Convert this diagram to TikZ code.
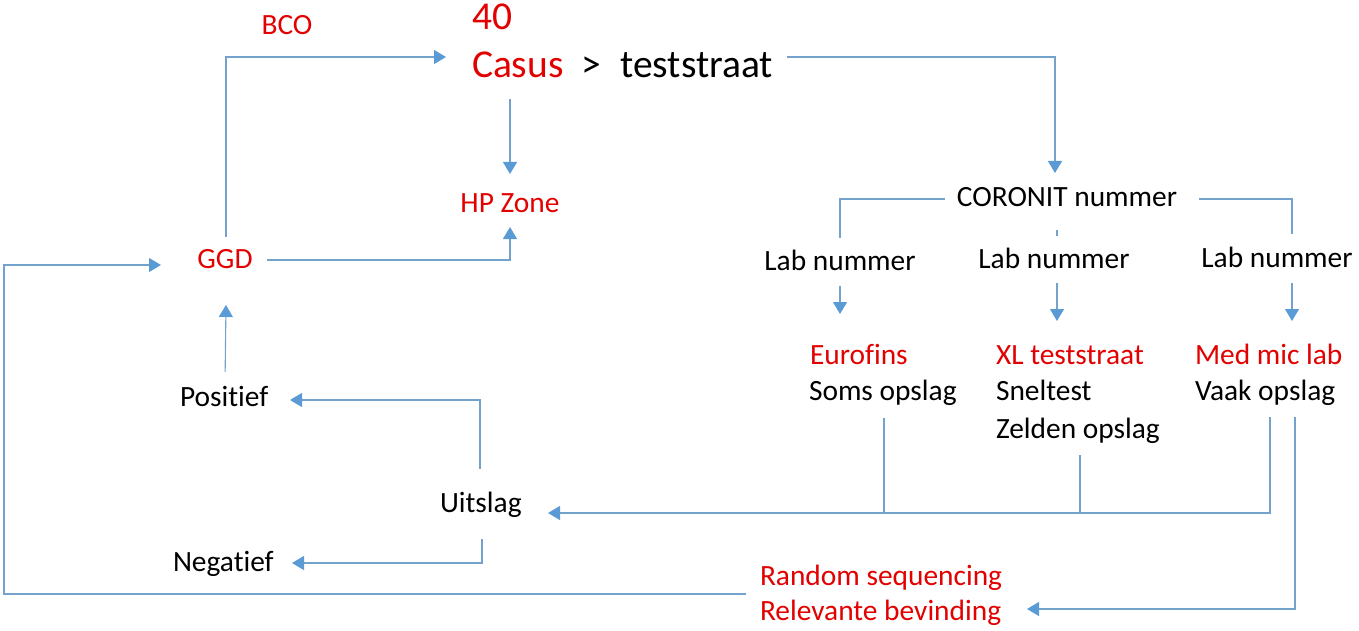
\documentclass[tikz,border=0pt]{standalone}
\usepackage{fontspec}
\setmainfont[Ligatures=NoCommon]{Carlito}
\usetikzlibrary{calc,arrows.meta}
\definecolor{cred}{RGB}{226,0,0}
\definecolor{cblue}{RGB}{91,155,213}
\definecolor{cline}{RGB}{115,162,204}
\begin{document}
\begin{tikzpicture}[x=1pt,y=-1pt,
  txt/.style={inner sep=0pt, outer sep=0pt, font=\fontsize{29.4}{35}\selectfont},
  big/.style={inner sep=0pt, outer sep=0pt, font=\fontsize{39.5}{47}\selectfont},
  rd/.style={text=cred},
  ln/.style={draw=cline, line width=1.1pt},
  arr/.style={ln, -{Triangle[length=12pt,width=14pt,fill=cblue,color=cblue]}}]
\useasboundingbox (0,0) rectangle (1359,631);

% nodes
\node[big,rd,anchor=base west] (n40) at (472,30) {40};
\node[big,anchor=base west] (casus) at (472,78) {\textcolor{cred}{Casus}\hspace{18pt}>\hspace{19pt}teststraat};
\node[txt,rd,anchor=base] (bco) at (287,35) {BCO};
\node[txt,rd,anchor=base] (hp) at (510,212) {HP Zone};
\node[txt,rd,anchor=base] (ggd) at (225,268) {GGD};
\node[txt,anchor=base west] (pos) at (180,406) {Positief};
\node[txt,anchor=base west] (uit) at (440,512) {Uitslag};
\node[txt,anchor=base west] (neg) at (173,571) {Negatief};
\node[txt,anchor=base] (cor) at (1067,207) {CORONIT nummer};
\node[txt,anchor=base] (lab1) at (840,270) {Lab nummer};
\node[txt,anchor=base] (lab2) at (1054,268) {Lab nummer};
\node[txt,anchor=base] (lab3) at (1277,267) {Lab nummer};
\node[txt,rd,anchor=base west] (euro) at (810,364) {Eurofins};
\node[txt,anchor=base west] (soms) at (809,400) {Soms opslag};
\node[txt,rd,anchor=base west] (xl) at (996,364) {XL teststraat};
\node[txt,anchor=base west] (snel) at (996,400) {Sneltest};
\node[txt,anchor=base west] (zelden) at (996,438) {Zelden opslag};
\node[txt,rd,anchor=base west] (med) at (1195,364) {Med mic lab};
\node[txt,anchor=base west] (vaak) at (1195,400) {Vaak opslag};
\node[txt,rd,anchor=base west] (rand) at (760,585) {Random sequencing};
\node[txt,rd,anchor=base west] (relev) at (760,620) {Relevante bevinding};

% connectors
\draw[arr] ($(ggd.base)+(1,-31)$) |- ($(casus.base west)+(-26,-21)$);
\draw[arr] ($(casus.base west)+(38,21)$) -- ($(hp.base)+(0,-38)$);
\draw[arr] ($(ggd.base)+(42,-8)$) -| ($(hp.base)+(0,15)$);
\draw[arr] ($(rand.base west)+(-14,9)$) -- ++(-742,0) |- ($(ggd.base)+(-64,-3)$);
\draw[arr] ($(pos.base)+(1,-34)$) -- ($(ggd.base)+(1,37)$);
\draw[arr] ($(uit.base west)+(40,-43)$) |- ($(pos.base west)+(110,-6)$);
\draw[arr] ($(uit.base west)+(42,27)$) |- ($(neg.base west)+(119,-8)$);

\coordinate (uitin) at ($(uit.base west)+(108,1)$);
\coordinate (somsout) at ($(soms.base west)+(75,18)$);
\coordinate (zeldout) at ($(zelden.base west)+(84,17)$);
\coordinate (vaakout) at ($(vaak.base west)+(75,17)$);
\draw[arr] (vaakout) |- (uitin);
\draw[ln] (somsout) -- (somsout |- uitin);
\draw[ln] (zeldout) -- (zeldout |- uitin);

\draw[arr] ($(vaak.base west)+(100,17)$) |- ($(relev.base west)+(267,-11)$);

\draw[arr] ($(casus.base west)+(315,-21)$) -| ($(cor.base)+(-12,-34)$);
\draw[ln] ($(cor.base)+(-122,-8)$) -| ($(lab1.base)+(0,-32)$);
\draw[ln] ($(cor.base)+(132,-8)$) -| ($(lab3.base)+(15,-33)$);
\draw[ln] ($(cor.base)+(-10,23)$) -- ($(lab2.base)+(3,-32)$);

\draw[arr] ($(lab1.base)+(0,16)$) -- ($(euro.base west)+(30,-50)$);
\draw[arr] ($(lab2.base)+(3,15)$) -- ($(xl.base west)+(61,-43)$);
\draw[arr] ($(lab3.base)+(15,16)$) -- ($(med.base west)+(97,-43)$);
\end{tikzpicture}
\end{document}
